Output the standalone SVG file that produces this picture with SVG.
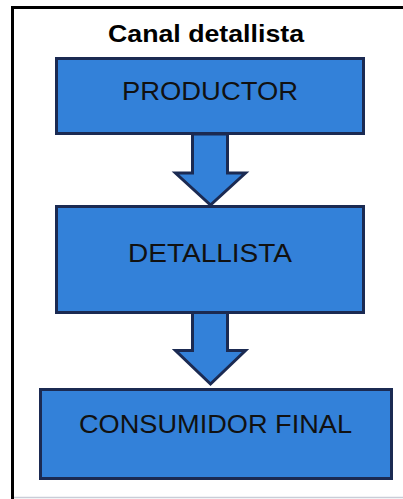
<svg xmlns="http://www.w3.org/2000/svg" width="403" height="499" viewBox="0 0 403 499">
<style>
.box{fill:#3381d9;stroke:#1b2a52;stroke-width:3}
.arrow{fill:#3381d9;stroke:#1b2a52;stroke-width:3;stroke-linejoin:miter}
.lbl{font-family:"Liberation Sans",Arial,sans-serif;font-size:25px;fill:#111;text-anchor:middle}
.title{font-family:"Liberation Sans",Arial,sans-serif;font-size:24px;font-weight:bold;fill:#000;text-anchor:middle}
</style>
<rect width="403" height="499" fill="#fff"/>
<path d="M404 7.5 H12.5 V499" fill="none" stroke="#000" stroke-width="3"/>
<line x1="14" y1="497.5" x2="403" y2="497.5" stroke="#c9cdd8" stroke-width="1.5"/>
<text class="title" x="206" y="42" textLength="196" lengthAdjust="spacingAndGlyphs">Canal detallista</text>
<g id="connectors">
<path class="arrow" d="M192.5 134 H227.5 V173 H245.5 L210.5 205 L175.5 173 H192.5 Z"/>
<path class="arrow" d="M192.5 312 H227.5 V350.5 H245.5 L210.5 384 L175.5 350.5 H192.5 Z"/>
</g>
<g id="productor">
<rect class="box" x="56.5" y="58.5" width="307" height="75"/>
<text class="lbl" x="210" y="100" textLength="176" lengthAdjust="spacingAndGlyphs">PRODUCTOR</text>
</g>
<g id="detallista">
<rect class="box" x="56.5" y="206.5" width="307" height="106"/>
<text class="lbl" x="210" y="262" textLength="164" lengthAdjust="spacingAndGlyphs">DETALLISTA</text>
</g>
<g id="consumidor">
<rect class="box" x="40.5" y="389.5" width="351" height="89"/>
<text class="lbl" x="215.5" y="433" textLength="273" lengthAdjust="spacingAndGlyphs">CONSUMIDOR FINAL</text>
</g>
</svg>
